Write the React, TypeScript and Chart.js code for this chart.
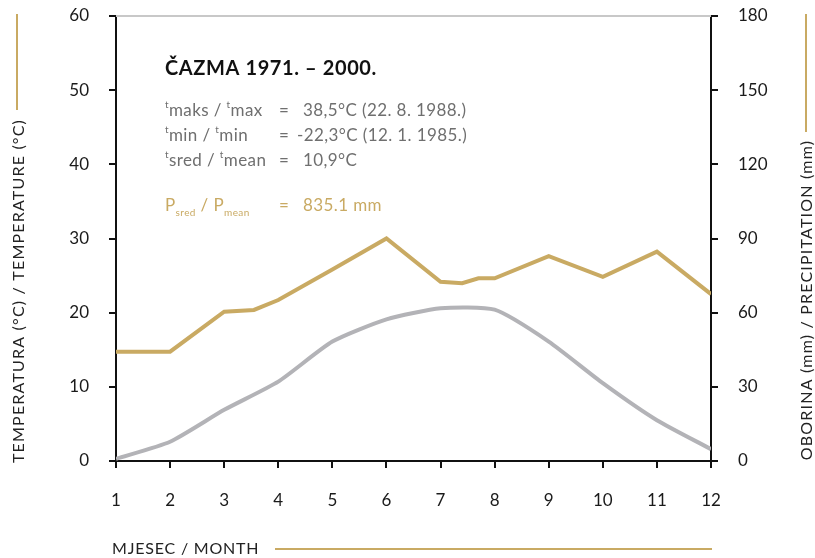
import React, { useEffect, useRef } from "react";
import { Chart, registerables } from "chart.js";
Chart.register(...registerables);

const FONT = "Lato";
const GOLD = "#c9aa63";
const GREY_LINE = "#b3b3b7";
const TEXT_GREY = "#6f6f6f";

const monthTicks = [1, 2, 3, 4, 5, 6, 7, 8, 9, 10, 11, 12];
const tempMonths = [1, 2, 3, 4, 5, 6, 7, 8, 9, 10, 11, 12];
const tempValues = [0.3, 2.6, 6.9, 10.7, 16.1, 19.1, 20.6, 20.4, 16.1, 10.5, 5.5, 1.6];
const precipMonths = [1, 2, 3, 3.55, 4, 5, 6, 7, 7.4, 7.7, 8, 9, 10, 11, 12];
const precipValues = [44.2, 44.2, 60.4, 61.1, 65.1, 77.5, 90, 72.5, 71.9, 73.9, 73.9, 82.9, 74.5, 84.7, 67.5];
const tempTicks = [0, 10, 20, 30, 40, 50, 60];
const precipTicks = [0, 30, 60, 90, 120, 150, 180];

const titleText = "ČAZMA 1971. – 2000.";
const leftTitle = "TEMPERATURA (°C) / TEMPERATURE (°C)";
const rightTitle = "OBORINA (mm) / PRECIPITATION (mm)";
const bottomTitle = "MJESEC / MONTH";

type Part = { text: string; size: number; dy?: number; weight?: number; color: string; ls?: number };

function rich(ctx: CanvasRenderingContext2D, x: number, y: number, parts: Part[]) {
  let cx = x;
  for (const p of parts) {
    ctx.font = `${p.weight || 400} ${p.size}px ${FONT}`;
    (ctx as any).letterSpacing = `${p.ls ?? 0.4}px`;
    ctx.fillStyle = p.color;
    ctx.fillText(p.text, cx, y + (p.dy || 0));
    cx += ctx.measureText(p.text).width;
  }
  (ctx as any).letterSpacing = "0px";
}

const decorPlugin = {
  id: "decor",
  afterDraw(chart: any) {
    const ctx: CanvasRenderingContext2D = chart.ctx;
    const a = chart.chartArea;
    ctx.save();
    // top light border
    ctx.strokeStyle = "#c8c8c8";
    ctx.lineWidth = 2;
    ctx.beginPath();
    ctx.moveTo(a.left, a.top);
    ctx.lineTo(a.right, a.top);
    ctx.stroke();

    // gold decorative lines
    ctx.strokeStyle = GOLD;
    ctx.lineWidth = 2;
    ctx.beginPath();
    ctx.moveTo(17, 14);
    ctx.lineTo(17, 110);
    ctx.moveTo(806, 14);
    ctx.lineTo(806, 132);
    ctx.moveTo(275, 549);
    ctx.lineTo(712, 549);
    ctx.stroke();

    // axis titles
    ctx.fillStyle = "#222";
    ctx.font = `400 16px ${FONT}`;
    (ctx as any).letterSpacing = "1.2px";
    ctx.textAlign = "center";
    ctx.textBaseline = "middle";
    ctx.save();
    ctx.translate(19, 291);
    ctx.rotate(-Math.PI / 2);
    ctx.fillText(leftTitle, 0, 0);
    ctx.restore();
    ctx.save();
    ctx.translate(807, 300);
    ctx.rotate(-Math.PI / 2);
    ctx.fillText(rightTitle, 0, 0);
    ctx.restore();
    ctx.textAlign = "left";
    (ctx as any).letterSpacing = "0.8px";
    ctx.fillText(bottomTitle, 112, 549);
    (ctx as any).letterSpacing = "0px";

    // text block
    ctx.textBaseline = "alphabetic";
    ctx.textAlign = "left";
    rich(ctx, 165, 75, [{ text: titleText, size: 20, weight: 700, color: "#111", ls: 0.6 }]);
    const body = 17;
    const sup = 10;
    const lines: { y: number; label: Part[]; eqX: number; valX: number; val: string }[] = [
      {
        y: 116,
        label: [
          { text: "t", size: sup, dy: -8, color: TEXT_GREY },
          { text: "maks / ", size: body, color: TEXT_GREY },
          { text: "t", size: sup, dy: -8, color: TEXT_GREY },
          { text: "max", size: body, color: TEXT_GREY },
        ],
        eqX: 279,
        valX: 303,
        val: "38,5°C (22. 8. 1988.)",
      },
      {
        y: 141,
        label: [
          { text: "t", size: sup, dy: -8, color: TEXT_GREY },
          { text: "min / ", size: body, color: TEXT_GREY },
          { text: "t", size: sup, dy: -8, color: TEXT_GREY },
          { text: "min", size: body, color: TEXT_GREY },
        ],
        eqX: 279,
        valX: 297,
        val: "-22,3°C (12. 1. 1985.)",
      },
      {
        y: 166,
        label: [
          { text: "t", size: sup, dy: -8, color: TEXT_GREY },
          { text: "sred / ", size: body, color: TEXT_GREY },
          { text: "t", size: sup, dy: -8, color: TEXT_GREY },
          { text: "mean", size: body, color: TEXT_GREY },
        ],
        eqX: 279,
        valX: 303,
        val: "10,9°C",
      },
    ];
    for (const l of lines) {
      rich(ctx, 165, l.y, l.label);
      rich(ctx, l.eqX, l.y, [{ text: "=", size: body, color: TEXT_GREY }]);
      rich(ctx, l.valX, l.y, [{ text: l.val, size: body, color: TEXT_GREY }]);
    }
    rich(ctx, 165, 211, [
      { text: "P", size: body, color: GOLD },
      { text: "sred", size: 10, dy: 5, color: GOLD },
      { text: " / P", size: body, color: GOLD },
      { text: "mean", size: 10, dy: 5, color: GOLD },
    ]);
    rich(ctx, 279, 211, [{ text: "=", size: body, color: GOLD }]);
    rich(ctx, 303, 211, [{ text: "835.1 mm", size: body, color: GOLD }]);
    ctx.restore();
  },
};

export default function App() {
  const ref = useRef<HTMLCanvasElement | null>(null);
  useEffect(() => {
    if (!ref.current) return;
    const tickFont = { family: FONT, size: 17 };
    const gridCommon = {
      drawOnChartArea: false,
      drawTicks: true,
      tickLength: 7,
      color: "#111",
      lineWidth: 2,
    };
    const fitY = (w: number) => (s: any) => {
      s.width = w;
      s.paddingTop = 0;
      s.paddingBottom = 0;
    };
    const chart = new Chart(ref.current, {
      type: "line",
      data: {
        datasets: [
          {
            label: "Precipitation",
            data: precipMonths.map((m, i) => ({ x: m, y: precipValues[i] })),
            borderColor: GOLD,
            borderWidth: 4,
            pointRadius: 0,
            tension: 0,
            yAxisID: "y2",
          },
          {
            label: "Temperature",
            data: tempMonths.map((m, i) => ({ x: m, y: tempValues[i] })),
            borderColor: GREY_LINE,
            borderWidth: 4,
            pointRadius: 0,
            tension: 0.2,
            yAxisID: "y",
          },
        ],
      },
      options: {
        responsive: false,
        animation: false,
        layout: { padding: { top: 16, left: 0, right: 0, bottom: 0 } },
        plugins: { legend: { display: false }, tooltip: { enabled: false } },
        scales: {
          x: {
            type: "linear",
            min: 1,
            max: 12,
            afterBuildTicks: (s: any) => {
              s.ticks = monthTicks.map((v) => ({ value: v }));
            },
            ticks: { color: "#1a1a1a", font: tickFont, padding: 22, maxRotation: 0 },
            grid: gridCommon,
            border: { display: true, color: "#111", width: 2 },
            afterFit: (s: any) => {
              s.height = 97;
              s.paddingLeft = 0;
              s.paddingRight = 0;
            },
          },
          y: {
            position: "left",
            min: 0,
            max: 60,
            afterBuildTicks: (s: any) => {
              s.ticks = tempTicks.map((v) => ({ value: v }));
            },
            ticks: { color: "#1a1a1a", font: tickFont, padding: 20 },
            grid: gridCommon,
            border: { display: true, color: "#111", width: 2 },
            afterFit: fitY(116),
          },
          y2: {
            position: "right",
            min: 0,
            max: 180,
            afterBuildTicks: (s: any) => {
              s.ticks = precipTicks.map((v) => ({ value: v }));
            },
            ticks: { color: "#1a1a1a", font: tickFont, padding: 20 },
            grid: gridCommon,
            border: { display: true, color: "#111", width: 2 },
            afterFit: fitY(104),
          },
        },
      },
      plugins: [decorPlugin],
    } as any);
    return () => chart.destroy();
  }, []);
  return (
    <div style={{ position: "fixed", left: 0, top: 0, width: 815, height: 558, background: "#fff" }}>
      <canvas ref={ref} width={815} height={558} style={{ width: 815, height: 558 }} />
    </div>
  );
}
